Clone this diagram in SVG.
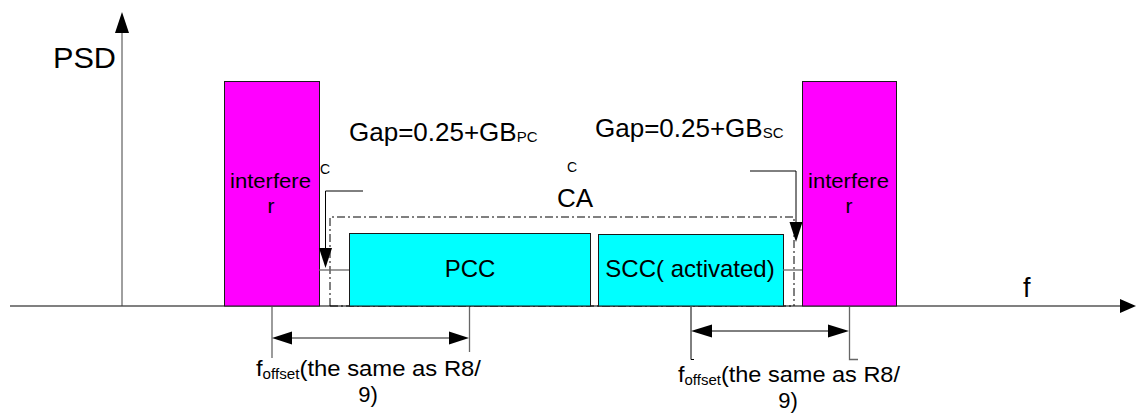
<svg xmlns="http://www.w3.org/2000/svg" width="1136" height="415" viewBox="0 0 1136 415">
  <style>
    text { font-family: "Liberation Sans", Arial, sans-serif; fill: #000; }
    .intf { fill: #FF00FF; stroke: #1a1a1a; stroke-width: 1; }
    .cc { fill: #00FFFF; stroke: #1a1a1a; stroke-width: 1; }
    .axis { stroke: #808080; stroke-width: 2; fill: none; }
    .vaxis { stroke: #404040; stroke-width: 1; fill: none; }
    .ln { stroke: #000; stroke-width: 1; fill: none; }
    .gl { stroke: #666; stroke-width: 1.3; fill: none; }
    .dd { stroke: #000; stroke-width: 1; fill: none; stroke-dasharray: 8 3 2 3; }
    .head { fill: #000; }
  </style>

  <!-- axes -->
  <g id="axes">
    <line class="axis" x1="10" y1="306" x2="1122" y2="306"/>
    <path class="head" d="M1120,299 L1136,306 L1120,313 Z"/>
    <line class="vaxis" x1="122" y1="306" x2="122" y2="30"/>
    <path class="head" d="M115,33 L122,12 L129,33 Z"/>
    <text x="53" y="68" font-size="30" textLength="63" lengthAdjust="spacingAndGlyphs">PSD</text>
    <text x="1023" y="297" font-size="27">f</text>
  </g>

  <!-- carrier aggregation envelope -->
  <g id="ca">
    <path class="dd" d="M330,306 L330,217 L794,217 L794,306"/>
    <line class="dd" x1="330" y1="306" x2="794" y2="306"/>
    <text x="557" y="207" font-size="26">CA</text>
  </g>

  <g id="interferer-left">
    <rect class="intf" x="224.5" y="81.5" width="95" height="224.5"/>
    <text x="230" y="188" font-size="21" textLength="81" lengthAdjust="spacingAndGlyphs">interfere</text>
    <text x="271" y="213" font-size="21" text-anchor="middle">r</text>
  </g>

  <g id="pcc">
    <rect class="cc" x="349.5" y="233.5" width="241" height="72.5"/>
    <text x="470" y="277" font-size="24" text-anchor="middle">PCC</text>
  </g>

  <g id="scc">
    <rect class="cc" x="598.5" y="234.5" width="185" height="71.5"/>
    <text x="690" y="277" font-size="24" text-anchor="middle">SCC( activated)</text>
  </g>

  <g id="interferer-right">
    <rect class="intf" x="802.5" y="81.5" width="94" height="224.5"/>
    <text x="808" y="188" font-size="21" textLength="81" lengthAdjust="spacingAndGlyphs">interfere</text>
    <text x="849" y="213" font-size="21" text-anchor="middle">r</text>
  </g>

  <!-- gap labels -->
  <g id="gap-labels">
    <text x="349" y="141" font-size="26">Gap=0.25+GB<tspan font-size="15" dy="1">PC</tspan></text>
    <text x="320" y="174" font-size="14">C</text>
    <text x="567" y="172" font-size="14">C</text>
    <text x="595" y="137" font-size="26">Gap=0.25+GB<tspan font-size="15" dy="1">SC</tspan></text>
  </g>

  <!-- connectors -->
  <g id="connectors">
    <path class="ln" d="M363,191 L325.5,191 L325.5,250"/>
    <path class="head" d="M319,248 L325.5,268 L332,248 Z"/>
    <line class="gl" x1="319" y1="270" x2="349" y2="270"/>

    <path class="ln" d="M750,171 L796,171 L796,224"/>
    <path class="head" d="M789.5,222 L796,242 L802.5,222 Z"/>
    <line class="gl" x1="783" y1="270" x2="802" y2="270"/>

    <!-- left offset dimension -->
    <line class="gl" x1="272" y1="307" x2="272" y2="358"/>
    <line class="gl" x1="469.5" y1="307" x2="469.5" y2="352"/>
    <line class="gl" x1="290" y1="338" x2="452" y2="338"/>
    <path class="head" d="M292,331.5 L272,338 L292,344.5 Z"/>
    <path class="head" d="M449,331.5 L469,338 L449,344.5 Z"/>

    <!-- right offset dimension -->
    <path class="ln" d="M691,307 L691,359.5 L694,359.5"/>
    <path class="gl" d="M849.5,307 L849.5,359.5 L858,359.5"/>
    <line class="ln" x1="710" y1="331" x2="830" y2="331"/>
    <path class="head" d="M712,324.5 L691,331 L712,337.5 Z"/>
    <path class="head" d="M828,324.5 L849,331 L828,337.5 Z"/>
  </g>

  <g id="offset-labels">
    <text x="256" y="376" font-size="22" textLength="225" lengthAdjust="spacingAndGlyphs"><tspan>f</tspan><tspan font-size="14" dy="3">offset</tspan><tspan dy="-3">(the same as R8/</tspan></text>
    <text x="368" y="402" font-size="22" text-anchor="middle">9)</text>
    <text x="678" y="382" font-size="22" textLength="222" lengthAdjust="spacingAndGlyphs"><tspan>f</tspan><tspan font-size="14" dy="3">offset</tspan><tspan dy="-3">(the same as R8/</tspan></text>
    <text x="788" y="408" font-size="22" text-anchor="middle">9)</text>
  </g>
</svg>
